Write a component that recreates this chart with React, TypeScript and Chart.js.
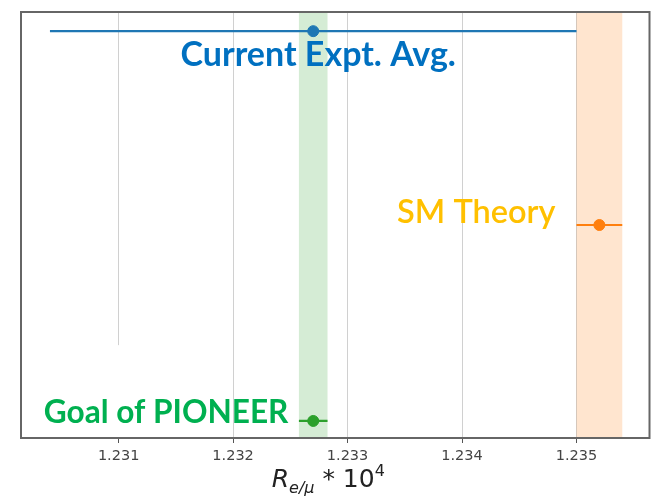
import React, { useEffect, useRef } from "react";
import { Chart, registerables } from "chart.js";

Chart.register(...registerables);

// ---- data ----
const seriesNames = ["Current Expt. Avg.", "SM Theory", "Goal of PIONEER"];
const centers = [1.2327, 1.2352, 1.2327];
const errors = [0.0023, 0.0002, 0.000125];
const rowLevels = [0.955, 0.5, 0.04];
const bandIndices = [1, 2];
const xTicks = [1.231, 1.232, 1.233, 1.234, 1.235];
const xMin = 1.230147;
const xMax = 1.235638;

// ---- styles ----
const lineColors = ["#1f77b4", "#ff7f0e", "#2ca02c"];
const bandColors = ["rgba(31,119,180,0.2)", "rgba(255,127,14,0.2)", "rgba(44,160,44,0.2)"];
const textColors = ["#0070C0", "#FFC000", "#00B050"];
const labelFonts = [
  "bold 34px Lato",
  "600 32.5px Lato",
  "bold 31.6px Lato",
];

export default function App() {
  const ref = useRef<HTMLCanvasElement | null>(null);

  useEffect(() => {
    if (!ref.current) return;
    const datasets: any[] = [];
    seriesNames.forEach((name, i) => {
      datasets.push({
        type: "line",
        label: name + " error",
        data: [
          { x: centers[i] - errors[i], y: rowLevels[i] },
          { x: centers[i] + errors[i], y: rowLevels[i] },
        ],
        borderColor: lineColors[i],
        borderWidth: 2.2,
        pointRadius: 0,
        fill: false,
      });
      datasets.push({
        type: "scatter",
        label: name,
        data: [{ x: centers[i], y: rowLevels[i] }],
        backgroundColor: lineColors[i],
        borderColor: lineColors[i],
        pointRadius: 5.5,
      });
    });

    const bandPlugin = {
      id: "bands",
      beforeDatasetsDraw(chart: any) {
        const { ctx, chartArea, scales } = chart;
        const xs = scales.x;
        const ys = scales.y;
        ctx.save();
        // partially hidden gridline, as in the reference
        const gx = xs.getPixelForValue(xTicks[0]);
        ctx.strokeStyle = "#ffffff";
        ctx.lineWidth = 3;
        ctx.beginPath();
        ctx.moveTo(gx, ys.getPixelForValue(0.218));
        ctx.lineTo(gx, chartArea.bottom - 1);
        ctx.stroke();
        bandIndices.forEach((i) => {
          const x0 = xs.getPixelForValue(centers[i] - errors[i]);
          const x1 = xs.getPixelForValue(centers[i] + errors[i]);
          ctx.fillStyle = bandColors[i];
          ctx.fillRect(x0, chartArea.top, x1 - x0, chartArea.bottom - chartArea.top);
        });
        ctx.restore();
      },
      afterDraw(chart: any) {
        const { ctx, chartArea, scales } = chart;
        const xs = scales.x;
        const ys = scales.y;
        ctx.save();
        // frame
        ctx.strokeStyle = "#666666";
        ctx.lineWidth = 2;
        ctx.strokeRect(chartArea.left, chartArea.top, chartArea.right - chartArea.left, chartArea.bottom - chartArea.top);

        // labels
        ctx.textBaseline = "alphabetic";
        ctx.font = labelFonts[0];
        ctx.fillStyle = textColors[0];
        ctx.textAlign = "center";
        ctx.fillText(seriesNames[0], xs.getPixelForValue(centers[0]) + 5, ys.getPixelForValue(rowLevels[0]) + 35);
        ctx.font = labelFonts[1];
        ctx.fillStyle = textColors[1];
        ctx.textAlign = "right";
        ctx.fillText(seriesNames[1], xs.getPixelForValue(centers[1] - errors[1]) - 21, ys.getPixelForValue(rowLevels[1]) - 2);
        ctx.font = labelFonts[2];
        ctx.fillStyle = textColors[2];
        ctx.textAlign = "right";
        ctx.fillText(seriesNames[2], xs.getPixelForValue(centers[2] - errors[2]) - 10.5, ys.getPixelForValue(rowLevels[2]) + 2);

        // axis title: R_{e/μ} * 10^4
        const cx = (chartArea.left + chartArea.right) / 2 - 7;
        const base = chartArea.bottom + 49;
        const parts = [
          { t: "R", f: "italic 25px 'DejaVu Sans'", dy: 0 },
          { t: "e/μ", f: "italic 16px 'DejaVu Sans'", dy: 6 },
          { t: " * 10", f: "25px 'DejaVu Sans'", dy: 0 },
          { t: "4", f: "16px 'DejaVu Sans'", dy: -11 },
        ];
        let total = 0;
        parts.forEach((p) => {
          ctx.font = p.f;
          total += ctx.measureText(p.t).width;
        });
        let x = cx - total / 2;
        ctx.fillStyle = "#222222";
        ctx.textAlign = "left";
        parts.forEach((p) => {
          ctx.font = p.f;
          ctx.fillText(p.t, x, base + p.dy);
          x += ctx.measureText(p.t).width;
        });
        ctx.restore();
      },
    };

    const chart = new Chart(ref.current, {
      type: "scatter",
      data: { datasets },
      options: {
        animation: false,
        responsive: false,
        layout: { padding: { left: 21, right: 1, top: 12, bottom: 0 } },
        plugins: { legend: { display: false }, tooltip: { enabled: false } },
        scales: {
          x: {
            type: "linear",
            min: xMin,
            max: xMax,
            afterBuildTicks: (s: any) => {
              s.ticks = xTicks.map((v) => ({ value: v }));
            },
            afterFit: (s: any) => {
              s.height = 64;
              s.paddingLeft = 0;
              s.paddingRight = 0;
            },
            grid: {
              color: "#d0d0d0",
              lineWidth: 1,
              tickLength: 5,
              tickColor: "#555555",
              drawTicks: true,
            },
            border: { display: false },
            ticks: {
              color: "#444444",
              font: { family: "'DejaVu Sans'", size: 14.5 },
              padding: 5,
              maxRotation: 0,
              autoSkip: false,
              callback: (v: any) => Number(v).toFixed(3),
            },
          },
          y: {
            type: "linear",
            min: 0,
            max: 1,
            display: false,
          },
        },
      },
      plugins: [bandPlugin],
    });
    return () => chart.destroy();
  }, []);

  return (
    <div style={{ position: "fixed", left: 0, top: 0, width: 656, height: 502, background: "#fff" }}>
      <canvas ref={ref} width={656} height={502} style={{ width: 656, height: 502 }} />
    </div>
  );
}
